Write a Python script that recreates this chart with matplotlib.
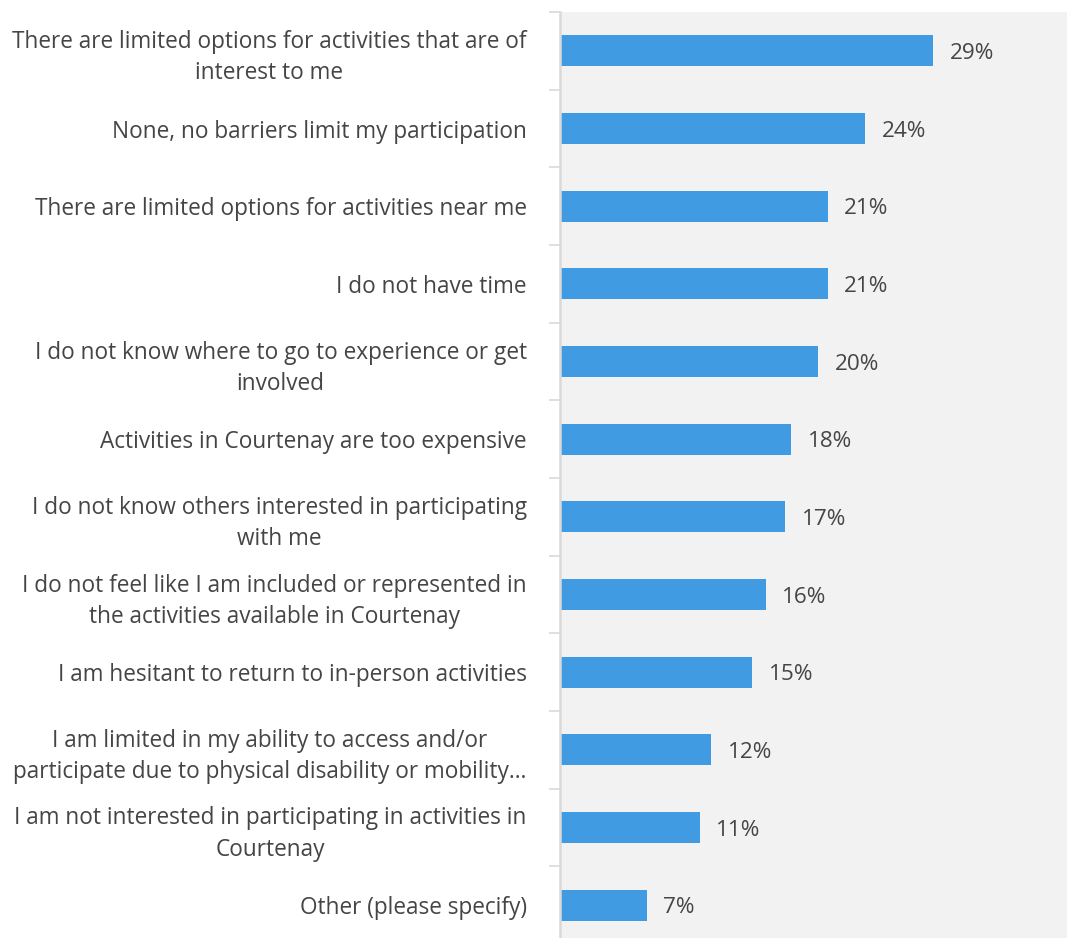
import matplotlib.pyplot as plt
import numpy as np

# survey answers, top to bottom
categories = [
    "There are limited options for activities that are of\ninterest to me",
    "None, no barriers limit my participation",
    "There are limited options for activities near me",
    "I do not have time",
    "I do not know where to go to experience or get\ninvolved",
    "Activities in Courtenay are too expensive",
    "I do not know others interested in participating\nwith me",
    "I do not feel like I am included or represented in\nthe activities available in Courtenay",
    "I am hesitant to return to in-person activities",
    "I am limited in my ability to access and/or\nparticipate due to physical disability or mobility\u2026",
    "I am not interested in participating in activities in\nCourtenay",
    "Other (please specify)",
]
percents = [28.85, 23.6, 20.7, 20.7, 19.95, 17.9, 17.4, 15.9, 14.85, 11.7, 10.8, 6.7]

plt.rcParams['font.family'] = ['Open Sans', 'DejaVu Sans']
text_color = '#454545'
bar_color = '#419BE3'
grid_gray = '#D9D9D9'

fig = plt.figure(figsize=(10.67, 9.38), dpi=100)
ax = fig.add_axes([560 / 1067, -6 / 938, 517 / 1067, 932 / 938])
ax.set_facecolor('#F2F2F2')

y = np.arange(len(categories))
ax.barh(y, percents, height=0.4, color=bar_color)

for yi, v in zip(y, percents):
    ax.text(v + 1.3, yi, f"{v:.0f}%", va='center_baseline', ha='left',
            fontsize=16.2, color=text_color)

ax.set_xlim(0, 40)
ax.set_ylim(len(categories) - 0.5, -0.5)
ax.set_xticks([])

ax.set_yticks(y)
ax.set_yticklabels(categories, fontsize=16.3, color=text_color,
                   multialignment='center', linespacing=1.4)
ax.tick_params(axis='y', which='major', length=0, pad=24)
ax.set_yticks(np.arange(-0.5, len(categories), 1), minor=True)
ax.tick_params(axis='y', which='minor', length=8, width=1.2, color=grid_gray,
               direction='out')

for side in ['top', 'right', 'bottom']:
    ax.spines[side].set_visible(False)
ax.spines['left'].set_color(grid_gray)
ax.spines['left'].set_linewidth(1.8)

fig.savefig("out.png", dpi=100)
